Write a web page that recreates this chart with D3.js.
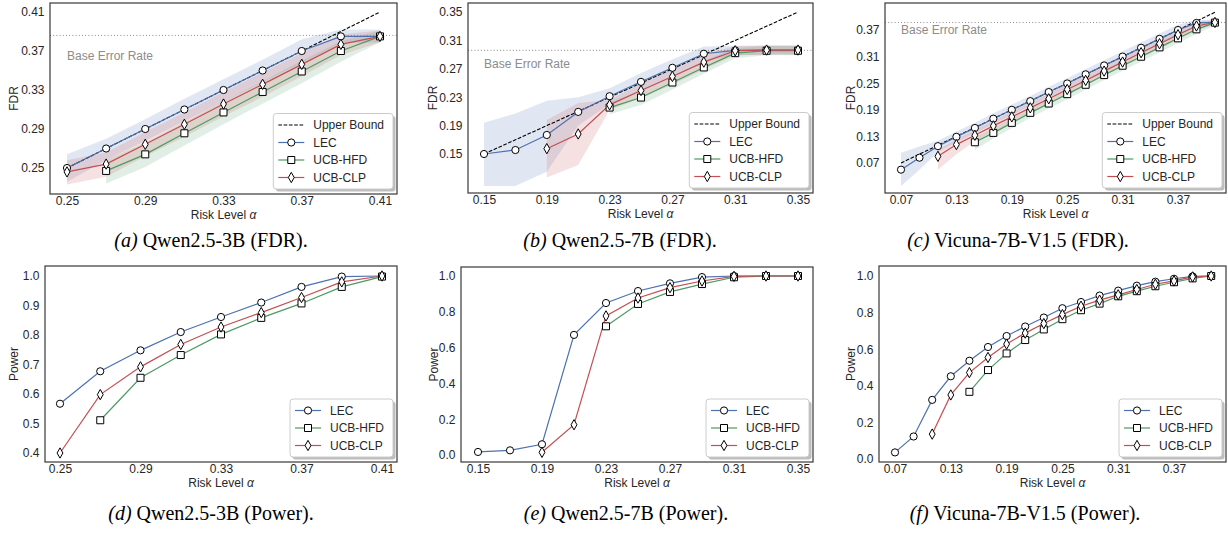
<!DOCTYPE html>
<html><head><meta charset="utf-8">
<script src="https://cdn.jsdelivr.net/npm/d3@7"></script>
<style>
html,body{margin:0;padding:0;background:#fff;}
svg{display:block;}
</style></head>
<body>
<svg id="chart" width="1228" height="533"></svg>
<script>
// ---------------- DATA ----------------
const seriesNames = ["LEC", "UCB-HFD", "UCB-CLP"];
const upperBoundName = "Upper Bound";
const baseErrorLabel = "Base Error Rate";

// (a) Qwen2.5-3B
const alphaA = [0.25,0.27,0.29,0.31,0.33,0.35,0.37,0.39,0.41];
const fdrA_LEC = [0.250,0.270,0.290,0.310,0.330,0.350,0.370,0.385,0.385];
const fdrA_LEC_hi = [0.264,0.280,0.300,0.321,0.341,0.361,0.382,0.392,0.392];
const fdrA_LEC_lo = [0.236,0.258,0.278,0.298,0.318,0.338,0.358,0.378,0.379];
const fdrA_HFD = [null,0.247,0.264,0.2856,0.307,0.328,0.349,0.370,0.385];
const fdrA_HFD_hi = [null,0.258,0.276,0.297,0.318,0.339,0.360,0.380,0.391];
const fdrA_HFD_lo = [null,0.234,0.251,0.273,0.295,0.316,0.337,0.359,0.379];
const fdrA_CLP = [0.246,0.254,0.2743,0.2948,0.3156,0.3358,0.3563,0.3768,0.385];
const fdrA_CLP_hi = [0.258,0.266,0.287,0.307,0.328,0.348,0.368,0.387,0.391];
const fdrA_CLP_lo = [0.233,0.241,0.262,0.282,0.303,0.323,0.344,0.366,0.379];
const baseA = 0.386;
const powA_LEC = [0.567,0.677,0.748,0.810,0.861,0.910,0.963,0.998,1.000];
const powA_HFD = [null,0.511,0.655,0.732,0.802,0.858,0.907,0.963,0.998];
const powA_CLP = [0.400,0.598,0.692,0.768,0.827,0.876,0.927,0.980,1.000];

// (b) Qwen2.5-7B
const alphaB = [0.15,0.17,0.19,0.21,0.23,0.25,0.27,0.29,0.31,0.33,0.35];
const fdrB_LEC = [0.150,0.1556,0.1768,0.2093,0.2314,0.2516,0.2714,0.2912,0.2959,0.2964,0.2964];
const fdrB_LEC_hi = [0.194,0.207,0.225,0.230,0.2425,0.264,0.2836,0.3015,0.3025,0.3025,0.3025];
const fdrB_LEC_lo = [0.105,0.105,0.125,0.190,0.220,0.239,0.259,0.281,0.289,0.290,0.290];
const fdrB_HFD = [null,null,null,null,0.2154,0.2295,0.2507,0.2719,0.2921,0.2954,0.2954];
const fdrB_HFD_hi = [null,null,null,null,0.223,0.239,0.260,0.281,0.299,0.302,0.302];
const fdrB_HFD_lo = [null,null,null,null,0.206,0.219,0.241,0.263,0.285,0.289,0.289];
const fdrB_CLP = [null,null,0.1575,0.1782,0.2192,0.2394,0.2592,0.2794,0.2954,0.2964,0.2964];
const fdrB_CLP_hi = [null,null,0.198,0.222,0.226,0.250,0.270,0.290,0.302,0.303,0.303];
const fdrB_CLP_lo = [null,null,0.117,0.1345,0.212,0.229,0.248,0.269,0.289,0.290,0.290];
const baseB = 0.296;
const powB_LEC = [0.017,0.026,0.060,0.671,0.849,0.916,0.959,0.994,1.000,1.000,1.000];
const powB_HFD = [null,null,null,null,0.719,0.844,0.911,0.955,0.993,1.000,1.000];
const powB_CLP = [null,null,0.015,0.169,0.777,0.877,0.935,0.972,0.998,1.000,1.000];

// (c) Vicuna-7B-V1.5
const alphaC = [0.07,0.09,0.11,0.13,0.15,0.17,0.19,0.21,0.23,0.25,0.27,0.29,0.31,0.33,0.35,0.37,0.39,0.41];
const fdrC_LEC = [0.055,0.082,0.108,0.129,0.149,0.170,0.190,0.2095,0.230,0.2494,0.270,0.290,0.310,0.330,0.350,0.370,0.386,0.387];
const fdrC_LEC_hi = [0.093,0.107,0.120,0.141,0.161,0.182,0.202,0.221,0.242,0.261,0.282,0.302,0.322,0.342,0.362,0.382,0.393,0.392];
const fdrC_LEC_lo = [0.018,0.055,0.094,0.117,0.137,0.158,0.178,0.198,0.218,0.238,0.258,0.278,0.298,0.318,0.338,0.358,0.378,0.381];
const fdrC_HFD = [null,null,null,null,0.1168,0.1379,0.1605,0.1831,0.2042,0.2253,0.2464,0.2683,0.2894,0.3097,0.3308,0.3512,0.3715,0.3866];
const fdrC_HFD_hi = [null,null,null,null,0.128,0.149,0.171,0.193,0.215,0.236,0.257,0.279,0.300,0.320,0.341,0.362,0.381,0.392];
const fdrC_HFD_lo = [null,null,null,null,0.100,0.125,0.149,0.172,0.193,0.214,0.235,0.257,0.278,0.299,0.320,0.340,0.361,0.380];
const fdrC_CLP = [null,null,0.085,0.1115,0.1326,0.1537,0.174,0.1944,0.2148,0.2359,0.2562,0.2773,0.2977,0.3188,0.3391,0.3594,0.379,0.387];
const fdrC_CLP_hi = [null,null,0.100,0.124,0.145,0.166,0.186,0.206,0.227,0.248,0.268,0.289,0.309,0.330,0.351,0.371,0.389,0.392];
const fdrC_CLP_lo = [null,null,0.055,0.090,0.119,0.141,0.162,0.183,0.203,0.224,0.245,0.266,0.287,0.308,0.328,0.348,0.369,0.382];
const baseC = 0.387;
const powC_LEC = [0.036,0.123,0.323,0.452,0.537,0.612,0.672,0.724,0.773,0.824,0.858,0.893,0.920,0.947,0.969,0.985,0.998,1.000];
const powC_HFD = [null,null,null,null,0.367,0.486,0.577,0.650,0.708,0.764,0.813,0.849,0.889,0.917,0.944,0.966,0.987,1.000];
const powC_CLP = [null,null,0.136,0.350,0.472,0.555,0.628,0.688,0.740,0.789,0.835,0.868,0.897,0.926,0.955,0.973,0.995,1.000];

// tick labels
const xTicksA = [0.25,0.29,0.33,0.37,0.41];
const xTicksB = [0.15,0.19,0.23,0.27,0.31,0.35];
const xTicksC = [0.07,0.13,0.19,0.25,0.31,0.37];
const yTicksFdrA = [0.25,0.29,0.33,0.37,0.41];
const yTicksFdrB = [0.15,0.19,0.23,0.27,0.31,0.35];
const yTicksFdrC = [0.07,0.13,0.19,0.25,0.31,0.37];
const yTicksPowA = [0.4,0.5,0.6,0.7,0.8,0.9,1.0];
const yTicksPowB = [0.0,0.2,0.4,0.6,0.8,1.0];
const yTicksPowC = [0.0,0.2,0.4,0.6,0.8,1.0];

const captions = [
  ["(a)", " Qwen2.5-3B (FDR)."],
  ["(b)", " Qwen2.5-7B (FDR)."],
  ["(c)", " Vicuna-7B-V1.5 (FDR)."],
  ["(d)", " Qwen2.5-3B (Power)."],
  ["(e)", " Qwen2.5-7B (Power)."],
  ["(f)", " Vicuna-7B-V1.5 (Power)."]
];

// ---------------- STYLE / LAYOUT ----------------
const colors = {"LEC":"#4C72B0","UCB-HFD":"#4E9A63","UCB-CLP":"#C44E52"};
const markers = {"LEC":"circle","UCB-HFD":"square","UCB-CLP":"diamond"};
const FONT = "'Liberation Sans', Arial, Helvetica, sans-serif";
const SERIF = "'Liberation Serif', 'Times New Roman', Times, serif";
const TXT = "#262626";

const panels = [
  {frame:[50,3,397,194], xA:[0.25,67,0.41,380], yA:[0.41,12,0.25,168], alpha:alphaA, xt:xTicksA, yt:yTicksFdrA, yfmt:".2f", ylabel:"FDR", ylabX:18, kind:"fdr",
   s:[fdrA_LEC,fdrA_HFD,fdrA_CLP], hi:[fdrA_LEC_hi,fdrA_HFD_hi,fdrA_CLP_hi], lo:[fdrA_LEC_lo,fdrA_HFD_lo,fdrA_CLP_lo], base:baseA, baseTxt:[0.25,0.3608], cap:0, capX:211},
  {frame:[468,3,813,193], xA:[0.15,484,0.35,798], yA:[0.35,12,0.15,154], alpha:alphaB, xt:xTicksB, yt:yTicksFdrB, yfmt:".2f", ylabel:"FDR", ylabX:437, kind:"fdr",
   s:[fdrB_LEC,fdrB_HFD,fdrB_CLP], hi:[fdrB_LEC_hi,fdrB_HFD_hi,fdrB_CLP_hi], lo:[fdrB_LEC_lo,fdrB_HFD_lo,fdrB_CLP_lo], base:baseB, baseTxt:[0.15,0.2711], cap:1, capX:620},
  {frame:[885,3,1226,193], xA:[0.07,901,0.37,1178], yA:[0.37,30,0.07,163], alpha:alphaC, xt:xTicksC, yt:yTicksFdrC, yfmt:".2f", ylabel:"FDR", ylabX:855, kind:"fdr",
   s:[fdrC_LEC,fdrC_HFD,fdrC_CLP], hi:[fdrC_LEC_hi,fdrC_HFD_hi,fdrC_CLP_hi], lo:[fdrC_LEC_lo,fdrC_HFD_lo,fdrC_CLP_lo], base:baseC, baseTxt:[0.07,0.361], cap:2, capX:1018},
  {frame:[45,266,397,462], xA:[0.25,60,0.41,382], yA:[1.0,276,0.4,453], alpha:alphaA, xt:xTicksA, yt:yTicksPowA, yfmt:".1f", ylabel:"Power", ylabX:18, kind:"pow",
   s:[powA_LEC,powA_HFD,powA_CLP], cap:3, capX:211},
  {frame:[461,267,813,462], xA:[0.15,478,0.35,798], yA:[1.0,276,0.0,455], alpha:alphaB, xt:xTicksB, yt:yTicksPowB, yfmt:".1f", ylabel:"Power", ylabX:438, kind:"pow",
   s:[powB_LEC,powB_HFD,powB_CLP], cap:4, capX:626},
  {frame:[879,266,1226,462], xA:[0.07,895,0.37,1174], yA:[1.0,276,0.0,459], alpha:alphaC, xt:xTicksC, yt:yTicksPowC, yfmt:".1f", ylabel:"Power", ylabX:855, kind:"pow",
   s:[powC_LEC,powC_HFD,powC_CLP], cap:5, capX:1025}
];

const svg = d3.select("#chart");

function markerPath(type, size){
  if(type==="circle") return d3.symbol().type(d3.symbolCircle).size(size*size*Math.PI/4)();
  if(type==="square") { const h=size/2; return `M${-h},${-h}H${h}V${h}H${-h}Z`; }
  const w=size*0.34, h=size*0.6;
  return `M0,${-h}L${w},0L0,${h}L${-w},0Z`;
}

function drawMarker(g, type, x, y){
  const sz = type==="circle"?7.2:(type==="square"?7:8.6);
  g.append("path").attr("d", markerPath(type, sz)).attr("transform",`translate(${x},${y})`)
    .attr("fill","#fff").attr("stroke","#000").attr("stroke-width",1);
}

panels.forEach(p=>{
  const [fx0,fy0,fx1,fy1] = p.frame;
  const x = d3.scaleLinear().domain([p.xA[0],p.xA[2]]).range([p.xA[1],p.xA[3]]);
  const y = d3.scaleLinear().domain([p.yA[0],p.yA[2]]).range([p.yA[1],p.yA[3]]);
  const g = svg.append("g");
  const clipId = "clip"+p.cap;
  svg.append("clipPath").attr("id",clipId).append("rect").attr("x",fx0).attr("y",fy0).attr("width",fx1-fx0).attr("height",fy1-fy0);
  const plot = g.append("g").attr("clip-path",`url(#${clipId})`);

  // bands
  if(p.kind==="fdr"){
    seriesNames.forEach((name,i)=>{
      const pts = p.alpha.map((a,j)=>({a, lo:p.lo[i][j], hi:p.hi[i][j]})).filter(d=>d.lo!=null);
      plot.append("path").datum(pts)
        .attr("d", d3.area().x(d=>x(d.a)).y0(d=>y(d.lo)).y1(d=>y(d.hi)))
        .attr("fill", colors[name]).attr("fill-opacity",0.17).attr("stroke","none");
    });
    // base error rate
    plot.append("line").attr("x1",fx0).attr("x2",fx1).attr("y1",y(p.base)).attr("y2",y(p.base))
      .attr("stroke","#8a8a8a").attr("stroke-width",1).attr("stroke-dasharray","1,2.2");
    g.append("text").attr("x",x(p.baseTxt[0])).attr("y",y(p.baseTxt[1]))
      .attr("font-family",FONT).attr("font-size",12).attr("fill","#8c8c8c").text(baseErrorLabel);
    // upper bound y = alpha
    const a0 = p.alpha[0], a1 = p.alpha[p.alpha.length-1];
    plot.append("path").datum([a0,a1])
      .attr("d", d3.line().x(d=>x(d)).y(d=>y(d)))
      .attr("stroke","#000").attr("stroke-width",1.1).attr("stroke-dasharray","3.7,1.6").attr("fill","none");
  }

  // series lines + markers
  seriesNames.forEach((name,i)=>{
    const pts = p.alpha.map((a,j)=>({a, v:p.s[i][j]})).filter(d=>d.v!=null);
    plot.append("path").datum(pts)
      .attr("d", d3.line().x(d=>x(d.a)).y(d=>y(d.v)))
      .attr("stroke", colors[name]).attr("stroke-width",1.2).attr("fill","none");
  });
  seriesNames.forEach((name,i)=>{
    const pts = p.alpha.map((a,j)=>({a, v:p.s[i][j]})).filter(d=>d.v!=null);
    pts.forEach(d=>drawMarker(g, markers[name], x(d.a), y(d.v)));
  });

  // frame
  g.append("rect").attr("x",fx0).attr("y",fy0).attr("width",fx1-fx0).attr("height",fy1-fy0)
    .attr("fill","none").attr("stroke","#404040").attr("stroke-width",1.25);

  // axes
  const xAxis = d3.axisBottom(x).tickValues(p.xt).tickSize(0).tickPadding(0).tickFormat(d3.format(".2f"));
  const xg = g.append("g").attr("transform",`translate(0,${fy1+2.5})`).call(xAxis);
  xg.select(".domain").remove();
  xg.selectAll("text").attr("font-family",FONT).attr("font-size",12).attr("fill",TXT).attr("dy","0.71em");
  const yAxis = d3.axisLeft(y).tickValues(p.yt).tickSize(0).tickPadding(0).tickFormat(d3.format(p.yfmt));
  const yg = g.append("g").attr("transform",`translate(${fx0-5.5},0)`).call(yAxis);
  yg.select(".domain").remove();
  yg.selectAll("text").attr("font-family",FONT).attr("font-size",12).attr("fill",TXT);

  // axis labels
  const xl = g.append("text").attr("x",(fx0+fx1)/2).attr("y",fy1+24.5).attr("text-anchor","middle")
    .attr("font-family",FONT).attr("font-size",12).attr("fill",TXT);
  xl.append("tspan").text("Risk Level ");
  xl.append("tspan").attr("font-style","italic").text("α");
  g.append("text").attr("transform",`translate(${p.ylabX},${(fy0+fy1)/2}) rotate(-90)`)
    .attr("text-anchor","middle").attr("font-family",FONT).attr("font-size",12).attr("fill",TXT).text(p.ylabel);

  // legend
  const entries = (p.kind==="fdr"?[upperBoundName]:[]).concat(seriesNames);
  const lg = g.append("g");
  const rowH = 17.5;
  const boxH = 23 + (entries.length-1)*rowH;
  const texts = [];
  const tmp = lg.append("g");
  entries.forEach(e=>{
    const t = tmp.append("text").attr("font-family",FONT).attr("font-size",12).text(e);
    texts.push(t.node().getComputedTextLength());
  });
  tmp.remove();
  const boxW = 40 + d3.max(texts) + 9;
  const bx = fx1 - 4 - boxW, by = fy1 - 5 - boxH;
  lg.append("rect").attr("x",bx+2.5).attr("y",by+2.5).attr("width",boxW).attr("height",boxH).attr("rx",3)
    .attr("fill","#bdbdbd");
  lg.append("rect").attr("x",bx).attr("y",by).attr("width",boxW).attr("height",boxH).attr("rx",3)
    .attr("fill","#fff").attr("stroke","#cccccc").attr("stroke-width",1);
  entries.forEach((e,k)=>{
    const cy = by + 11.5 + k*rowH;
    if(e===upperBoundName){
      lg.append("line").attr("x1",bx+5).attr("x2",bx+31).attr("y1",cy).attr("y2",cy)
        .attr("stroke","#000").attr("stroke-width",1.1).attr("stroke-dasharray","3.7,1.6");
    } else {
      lg.append("line").attr("x1",bx+5).attr("x2",bx+31).attr("y1",cy).attr("y2",cy)
        .attr("stroke",colors[e]).attr("stroke-width",1.2);
      drawMarker(lg, markers[e], bx+18, cy);
    }
    lg.append("text").attr("x",bx+40).attr("y",cy).attr("dy","0.35em")
      .attr("font-family",FONT).attr("font-size",12).attr("fill",TXT).text(e);
  });

  // caption
  const c = captions[p.cap];
  const ct = svg.append("text").attr("x",p.capX).attr("y", p.kind==="fdr"?247:520).attr("text-anchor","middle")
    .attr("font-family",SERIF).attr("font-size",20).attr("fill","#000");
  ct.append("tspan").attr("font-style","italic").text(c[0]);
  ct.append("tspan").text(c[1]);
});
</script>
</body></html>
